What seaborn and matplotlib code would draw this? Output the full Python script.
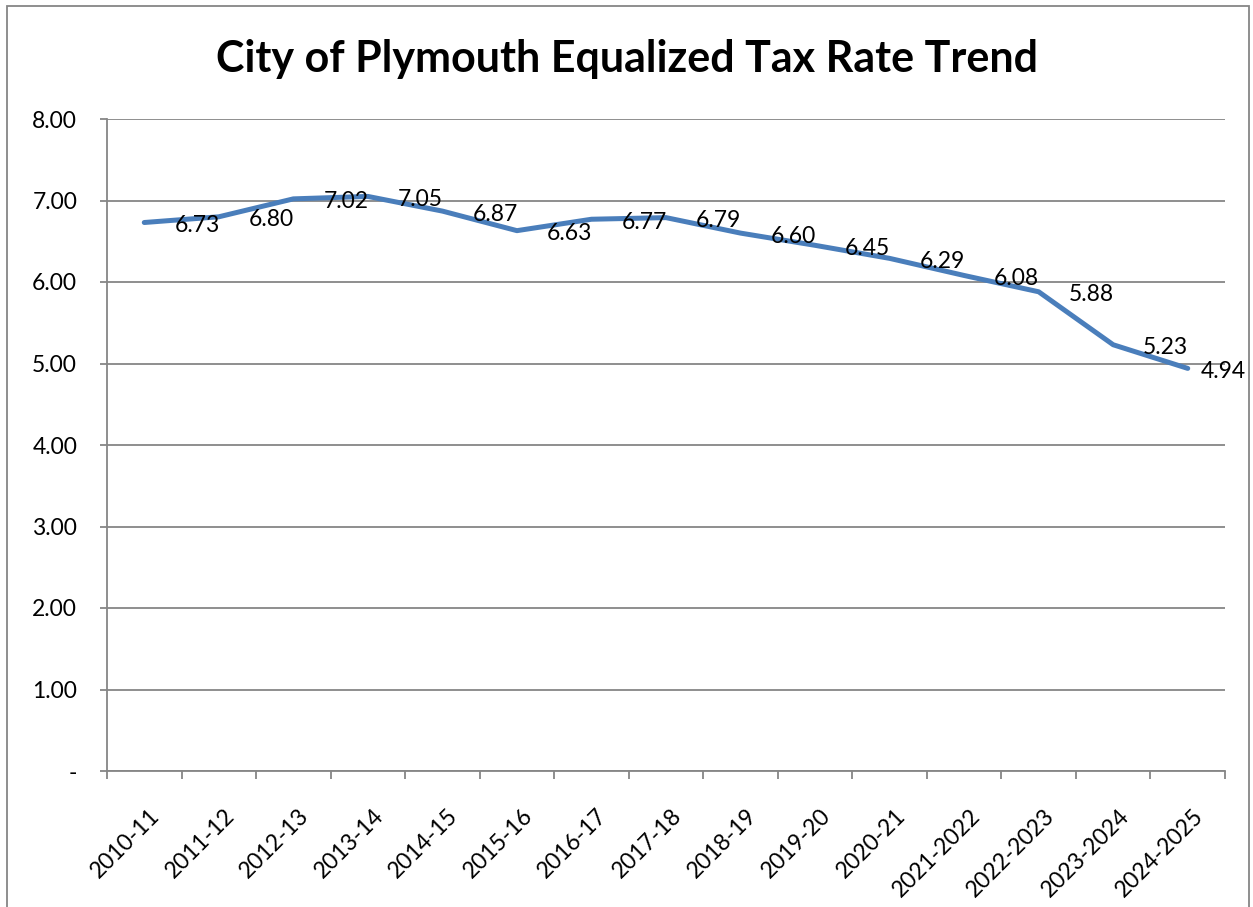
import pandas as pd
import matplotlib
matplotlib.use("Agg")
import matplotlib.pyplot as plt
import seaborn as sns
from matplotlib.patches import Rectangle
from matplotlib.ticker import FixedLocator, FuncFormatter
from matplotlib.transforms import ScaledTranslation

# data
years = ["2010-11", "2011-12", "2012-13", "2013-14", "2014-15", "2015-16", "2016-17",
         "2017-18", "2018-19", "2019-20", "2020-21", "2021-2022", "2022-2023",
         "2023-2024", "2024-2025"]
rates = [6.73, 6.80, 7.02, 7.05, 6.87, 6.63, 6.77, 6.79, 6.60, 6.45, 6.29, 6.08, 5.88, 5.23, 4.94]
y_ticks = [0, 1, 2, 3, 4, 5, 6, 7, 8]

df = pd.DataFrame({"Year": years, "Rate": rates})

sns.set_theme(style="white")
plt.rcParams["font.family"] = ["Lato", "DejaVu Sans"]
plt.rcParams["text.color"] = "black"

fig = plt.figure(figsize=(12.53, 9.07), dpi=100)
ax = fig.add_axes([107 / 1253, 1 - 771 / 907, (1225 - 107) / 1253, (771 - 119) / 907])

grid_c = "#868686"
line_c = "#4A7EBB"
fs = 16.5

sns.lineplot(data=df, x="Year", y="Rate", sort=False, color=line_c, linewidth=3.6, ax=ax)

ax.set_xlim(-0.5, len(years) - 0.5)
ax.set_ylim(0, 8)
ax.set_xlabel("")
ax.set_ylabel("")

# y axis: accounting style, dash for zero
ax.set_yticks(y_ticks)
ax.yaxis.set_major_formatter(FuncFormatter(lambda v, p: "-" if v == 0 else f"{v:.2f}"))
ax.yaxis.grid(True, color=grid_c, linewidth=1.3)
ax.set_axisbelow(True)

# x axis: labels centered on categories, tick marks between them
ax.set_xticks(range(len(years)))
ax.set_xticklabels(years, rotation=45, ha="right", va="top", rotation_mode="anchor")
ax.xaxis.set_minor_locator(FixedLocator([i - 0.5 for i in range(len(years) + 1)]))
ax.tick_params(axis="x", which="major", length=0, pad=24.5, labelsize=fs, labelcolor="black")
ax.tick_params(axis="x", which="minor", length=5.5, width=1.3, color=grid_c, direction="out", bottom=True)
ax.tick_params(axis="y", length=5, width=1.3, color=grid_c, direction="out", left=True,
               labelsize=fs, pad=16.5, labelcolor="black")
shift = ScaledTranslation(5 / 100, 0, fig.dpi_scale_trans)
for lab in ax.get_xticklabels():
    lab.set_transform(lab.get_transform() + shift)

for s in ["top", "right"]:
    ax.spines[s].set_visible(False)
for s in ["left", "bottom"]:
    ax.spines[s].set_color(grid_c)
    ax.spines[s].set_linewidth(1.3)

# data labels to the right of each point
for i, v in enumerate(rates):
    dx = 13 if i == len(rates) - 1 else 30
    ax.annotate(f"{v:.2f}", (i, v), xytext=(dx, -3), textcoords="offset pixels",
                ha="left", va="center", fontsize=fs, color="black")

fig.text(0.5, 1 - 59 / 907, "City of Plymouth Equalized Tax Rate Trend",
         ha="center", va="center", fontsize=31, fontweight="bold", color="black")

# chart border
fig.patches.append(Rectangle((7 / 1253, -0.05), (1249 - 7) / 1253, 1.05 - 6 / 907,
                             transform=fig.transFigure, fill=False,
                             edgecolor=grid_c, linewidth=1.3))

fig.savefig("out.png", dpi=100)
